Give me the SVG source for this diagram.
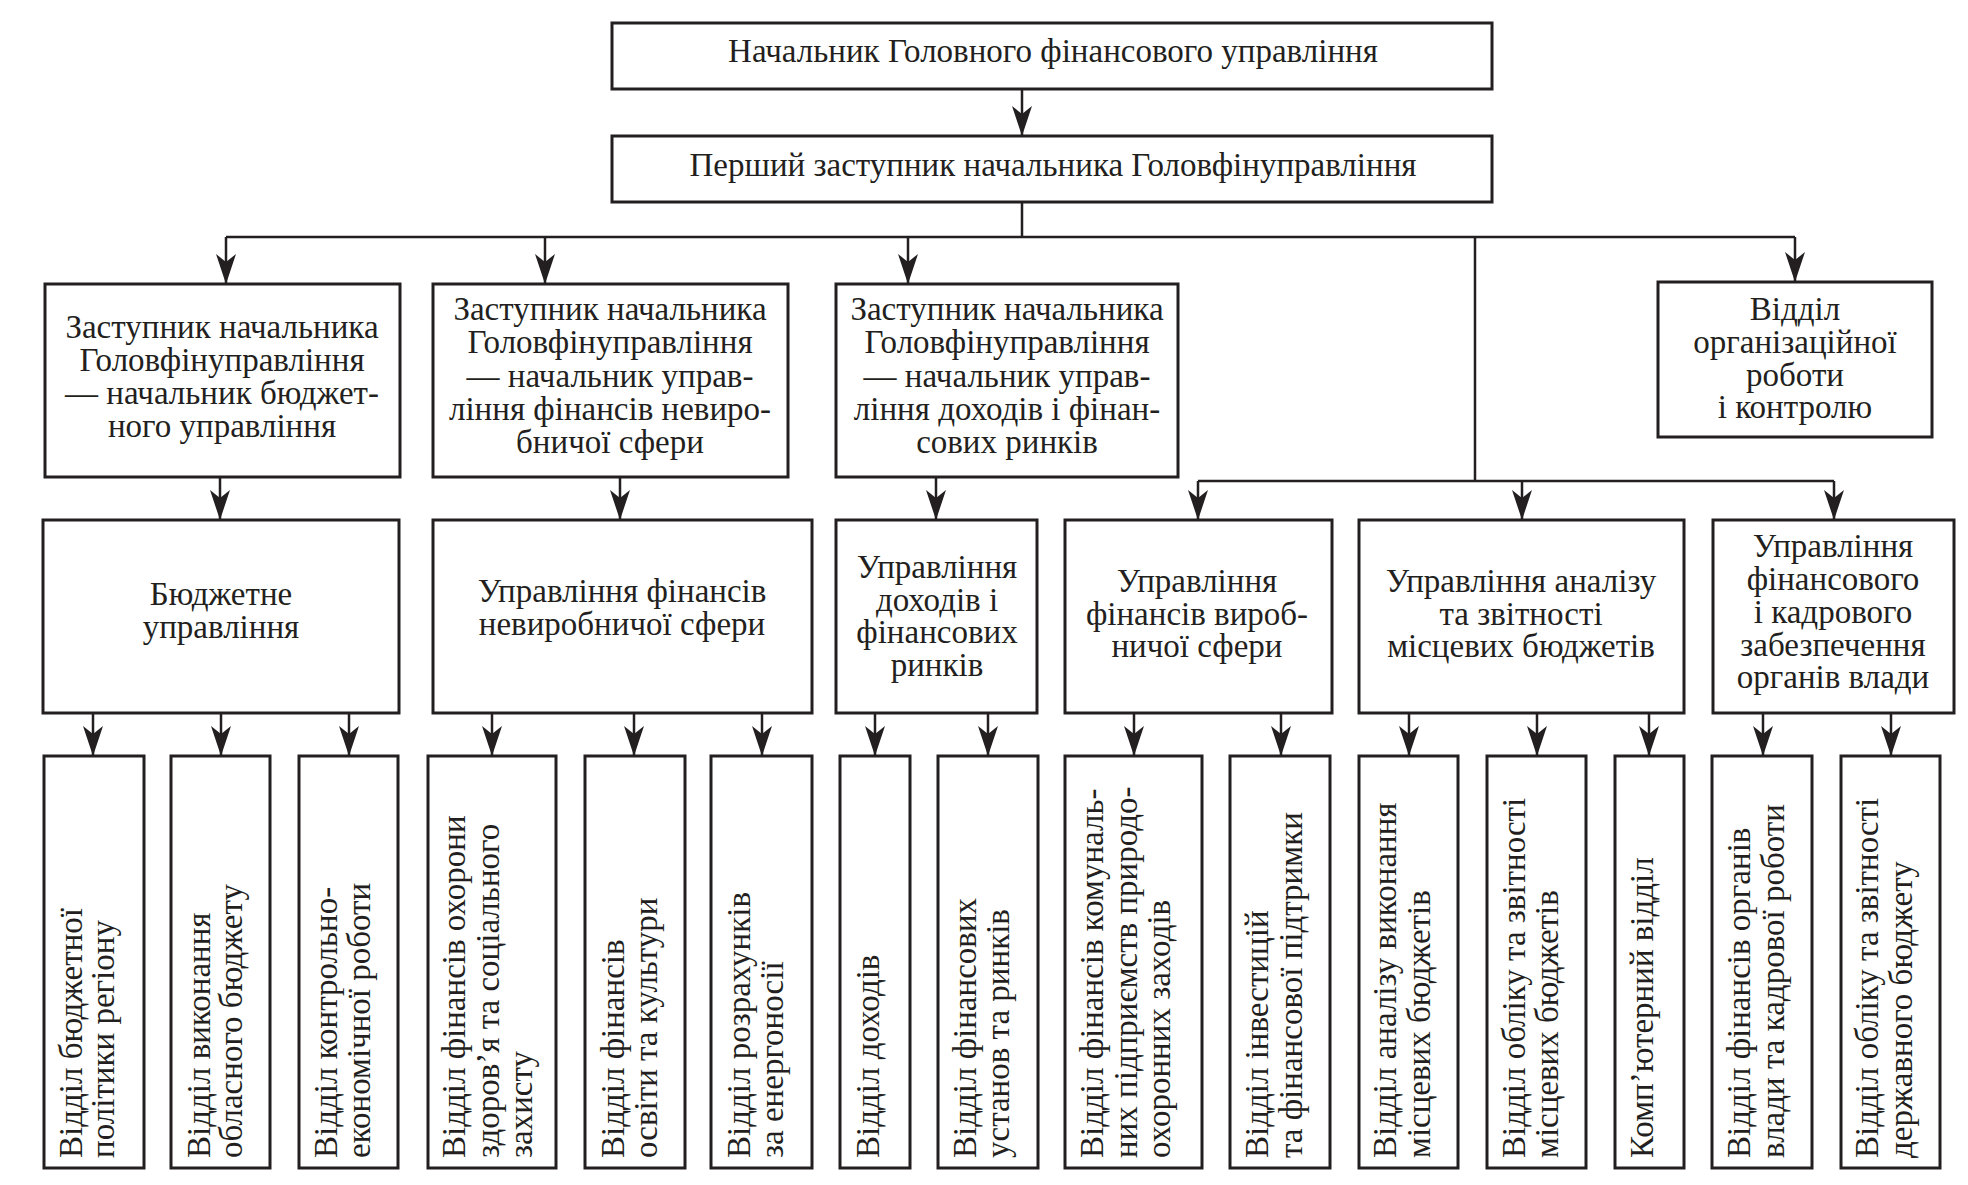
<svg xmlns="http://www.w3.org/2000/svg" width="1968" height="1185" viewBox="0 0 1968 1185">
<defs>
<style>
.box{fill:#fff;stroke:#231f20;stroke-width:3}
.c{fill:none;stroke:#231f20;stroke-width:2.5}
text{font-family:"Liberation Serif","Times New Roman",serif;font-size:33px;fill:#231f20}
.m{text-anchor:middle}
</style>
<marker id="ah" viewBox="0 0 30 20" refX="30" refY="10" markerWidth="30" markerHeight="20" markerUnits="userSpaceOnUse" orient="auto">
<path d="M0,0 L30,10 L0,20 L8,10 Z" fill="#231f20"/>
</marker>
</defs>
<rect width="1968" height="1185" fill="#fff"/>

<g id="connectors">
<path class="c" d="M1022,89 V136" marker-end="url(#ah)"/>
<path class="c" d="M1022,202 V237 M226,237 H1795 M1475,237 V481 M1198,481 H1834"/>
<path class="c" d="M226,237 V284" marker-end="url(#ah)"/>
<path class="c" d="M545,237 V284" marker-end="url(#ah)"/>
<path class="c" d="M908,237 V284" marker-end="url(#ah)"/>
<path class="c" d="M1795,237 V282" marker-end="url(#ah)"/>
<path class="c" d="M220,477 V520" marker-end="url(#ah)"/>
<path class="c" d="M620,477 V520" marker-end="url(#ah)"/>
<path class="c" d="M936,477 V520" marker-end="url(#ah)"/>
<path class="c" d="M1198,481 V520" marker-end="url(#ah)"/>
<path class="c" d="M1522,481 V520" marker-end="url(#ah)"/>
<path class="c" d="M1834,481 V520" marker-end="url(#ah)"/>
<path class="c" d="M93,713 V756" marker-end="url(#ah)"/>
<path class="c" d="M221,713 V756" marker-end="url(#ah)"/>
<path class="c" d="M349,713 V756" marker-end="url(#ah)"/>
<path class="c" d="M492,713 V756" marker-end="url(#ah)"/>
<path class="c" d="M634,713 V756" marker-end="url(#ah)"/>
<path class="c" d="M762,713 V756" marker-end="url(#ah)"/>
<path class="c" d="M875,713 V756" marker-end="url(#ah)"/>
<path class="c" d="M988,713 V756" marker-end="url(#ah)"/>
<path class="c" d="M1134,713 V756" marker-end="url(#ah)"/>
<path class="c" d="M1281,713 V756" marker-end="url(#ah)"/>
<path class="c" d="M1409,713 V756" marker-end="url(#ah)"/>
<path class="c" d="M1537,713 V756" marker-end="url(#ah)"/>
<path class="c" d="M1649,713 V756" marker-end="url(#ah)"/>
<path class="c" d="M1763,713 V756" marker-end="url(#ah)"/>
<path class="c" d="M1891,713 V756" marker-end="url(#ah)"/>
</g>

<g id="head">
<rect class="box" x="612" y="23" width="880" height="66"/>
<text class="m" x="1053" y="62">Начальник Головного фінансового управління</text>
</g>
<g id="first-deputy">
<rect class="box" x="612" y="136" width="880" height="66"/>
<text class="m" x="1053" y="176">Перший заступник начальника Головфінуправління</text>
</g>

<g id="deputy-budget">
<rect class="box" x="45" y="284" width="355" height="193"/>
<text class="m"><tspan x="222" y="338">Заступник начальника</tspan><tspan x="222" y="371">Головфінуправління</tspan><tspan x="222" y="404">— начальник бюджет-</tspan><tspan x="222" y="437">ного управління</tspan></text>
</g>
<g id="deputy-nonprod">
<rect class="box" x="433" y="284" width="355" height="193"/>
<text class="m"><tspan x="610" y="320">Заступник начальника</tspan><tspan x="610" y="353">Головфінуправління</tspan><tspan x="610" y="387">— начальник управ-</tspan><tspan x="610" y="420">ління фінансів невиро-</tspan><tspan x="610" y="453">бничої сфери</tspan></text>
</g>
<g id="deputy-income">
<rect class="box" x="836" y="284" width="342" height="193"/>
<text class="m"><tspan x="1007" y="320">Заступник начальника</tspan><tspan x="1007" y="353">Головфінуправління</tspan><tspan x="1007" y="387">— начальник управ-</tspan><tspan x="1007" y="420">ління доходів і фінан-</tspan><tspan x="1007" y="453">сових ринків</tspan></text>
</g>
<g id="org-dept">
<rect class="box" x="1658" y="282" width="274" height="155"/>
<text class="m"><tspan x="1795" y="320">Відділ</tspan><tspan x="1795" y="353">організаційної</tspan><tspan x="1795" y="386">роботи</tspan><tspan x="1795" y="418">і контролю</tspan></text>
</g>

<g id="budget-dept">
<rect class="box" x="43" y="520" width="356" height="193"/>
<text class="m"><tspan x="221" y="605">Бюджетне</tspan><tspan x="221" y="638">управління</tspan></text>
</g>
<g id="nonprod-dept">
<rect class="box" x="433" y="520" width="379" height="193"/>
<text class="m"><tspan x="622" y="602">Управління фінансів</tspan><tspan x="622" y="635">невиробничої сфери</tspan></text>
</g>
<g id="income-dept">
<rect class="box" x="836" y="520" width="201" height="193"/>
<text class="m"><tspan x="937" y="578">Управління</tspan><tspan x="937" y="611">доходів і</tspan><tspan x="937" y="643">фінансових</tspan><tspan x="937" y="676">ринків</tspan></text>
</g>
<g id="prod-dept">
<rect class="box" x="1065" y="520" width="267" height="193"/>
<text class="m"><tspan x="1197" y="592">Управління</tspan><tspan x="1197" y="625">фінансів вироб-</tspan><tspan x="1197" y="657">ничої сфери</tspan></text>
</g>
<g id="analysis-dept">
<rect class="box" x="1359" y="520" width="325" height="193"/>
<text class="m"><tspan x="1521" y="592">Управління аналізу</tspan><tspan x="1521" y="625">та звітності</tspan><tspan x="1521" y="657">місцевих бюджетів</tspan></text>
</g>
<g id="hr-dept">
<rect class="box" x="1713" y="520" width="241" height="193"/>
<text class="m"><tspan x="1833" y="557">Управління</tspan><tspan x="1833" y="590">фінансового</tspan><tspan x="1833" y="623">і кадрового</tspan><tspan x="1833" y="656">забезпечення</tspan><tspan x="1833" y="688">органів влади</tspan></text>
</g>

<g id="d1"><rect class="box" x="44" y="756" width="100" height="412"/>
<text transform="translate(82,1158) rotate(-90)"><tspan x="0" y="0">Відділ бюджетної</tspan><tspan x="0" y="32">політики  регіону</tspan></text></g>
<g id="d2"><rect class="box" x="171" y="756" width="99" height="412"/>
<text transform="translate(210,1158) rotate(-90)"><tspan x="0" y="0">Відділ виконання</tspan><tspan x="0" y="32">обласного бюджету</tspan></text></g>
<g id="d3"><rect class="box" x="299" y="756" width="99" height="412"/>
<text transform="translate(337,1158) rotate(-90)"><tspan x="0" y="0">Відділ контрольно-</tspan><tspan x="0" y="33">економічної роботи</tspan></text></g>
<g id="d4"><rect class="box" x="428" y="756" width="128" height="412"/>
<text transform="translate(465,1158) rotate(-90)"><tspan x="0" y="0">Відділ фінансів охорони</tspan><tspan x="0" y="34">здоров’я та соціального</tspan><tspan x="0" y="67">захисту</tspan></text></g>
<g id="d5"><rect class="box" x="585" y="756" width="100" height="412"/>
<text transform="translate(624,1158) rotate(-90)"><tspan x="0" y="0">Відділ фінансів</tspan><tspan x="0" y="33">освіти та культури</tspan></text></g>
<g id="d6"><rect class="box" x="711" y="756" width="101" height="412"/>
<text transform="translate(750,1158) rotate(-90)"><tspan x="0" y="0">Відділ розрахунків</tspan><tspan x="0" y="33">за енергоносії</tspan></text></g>
<g id="d7"><rect class="box" x="840" y="756" width="70" height="412"/>
<text transform="translate(879,1158) rotate(-90)">Відділ доходів</text></g>
<g id="d8"><rect class="box" x="938" y="756" width="100" height="412"/>
<text transform="translate(976,1158) rotate(-90)"><tspan x="0" y="0">Відділ фінансових</tspan><tspan x="0" y="33">установ та ринків</tspan></text></g>
<g id="d9"><rect class="box" x="1065" y="756" width="137" height="412"/>
<text transform="translate(1103,1158) rotate(-90)"><tspan x="0" y="0">Відділ фінансів комуналь-</tspan><tspan x="0" y="34">них підприємств природо-</tspan><tspan x="0" y="67">охоронних заходів</tspan></text></g>
<g id="d10"><rect class="box" x="1230" y="756" width="100" height="412"/>
<text transform="translate(1268,1158) rotate(-90)"><tspan x="0" y="0">Відділ інвестицій</tspan><tspan x="0" y="34">та фінансової підтримки</tspan></text></g>
<g id="d11"><rect class="box" x="1359" y="756" width="99" height="412"/>
<text transform="translate(1396,1158) rotate(-90)"><tspan x="0" y="0">Відділ аналізу виконання</tspan><tspan x="0" y="34">місцевих бюджетів</tspan></text></g>
<g id="d12"><rect class="box" x="1487" y="756" width="99" height="412"/>
<text transform="translate(1525,1158) rotate(-90)"><tspan x="0" y="0">Відділ обліку та звітності</tspan><tspan x="0" y="33">місцевих бюджетів</tspan></text></g>
<g id="d13"><rect class="box" x="1615" y="756" width="69" height="412"/>
<text transform="translate(1653,1158) rotate(-90)">Комп’ютерний відділ</text></g>
<g id="d14"><rect class="box" x="1712" y="756" width="100" height="412"/>
<text transform="translate(1750,1158) rotate(-90)"><tspan x="0" y="0">Відділ фінансів органів</tspan><tspan x="0" y="34">влади та кадрової роботи</tspan></text></g>
<g id="d15"><rect class="box" x="1841" y="756" width="99" height="412"/>
<text transform="translate(1878,1158) rotate(-90)"><tspan x="0" y="0">Відділ обліку та звітності</tspan><tspan x="0" y="34">державного бюджету</tspan></text></g>
</svg>
